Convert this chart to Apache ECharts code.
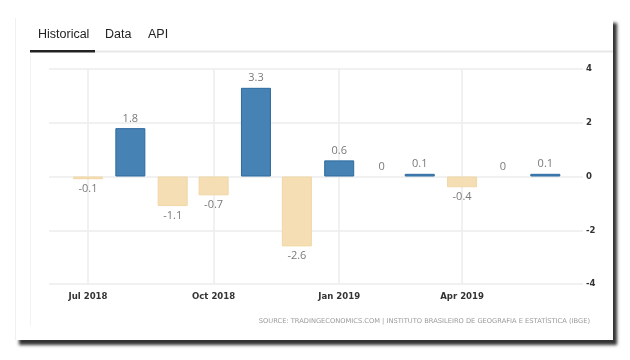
<!DOCTYPE html>
<html>
<head>
<meta charset="utf-8">
<script src="https://cdn.jsdelivr.net/npm/echarts@6/dist/echarts.min.js"></script>
<style>
html,body{margin:0;padding:0;background:#fff;}
#c{width:630px;height:360px;}
</style>
</head>
<body>
<div id="c"></div>
<script>
// ---- data ----
var months = ['2018-07','2018-08','2018-09','2018-10','2018-11','2018-12','2019-01','2019-02','2019-03','2019-04','2019-05','2019-06'];
var values = [-0.1, 1.8, -1.1, -0.7, 3.3, -2.6, 0.6, 0, 0.1, -0.4, 0, 0.1];
var xTickMonths = ['2018-07','2018-10','2019-01','2019-04'];
var monthNames = ['Jan','Feb','Mar','Apr','May','Jun','Jul','Aug','Sep','Oct','Nov','Dec'];
var yTicks = [-4, -2, 0, 2, 4];
var tabs = ['Historical', 'Data', 'API'];
var sourceText = 'SOURCE: TRADINGECONOMICS.COM | INSTITUTO BRASILEIRO DE GEOGRAFIA E ESTATÍSTICA (IBGE)';

function toTime(s){ var p = s.split('-'); return Date.UTC(+p[0], +p[1]-1, 1); }
var DAY = 86400000;
var xMin = toTime(months[0]) - 28.6*DAY;
var xMax = toTime(months[months.length-1]) + 27.6*DAY;

var POS = '#4682b4', POS_B = '#2d6a9f', NEG = '#f5deb3', NEG_B = '#f0d7a6';
var seriesData = months.map(function(m, i){
  var v = values[i];
  var neg = v < 0;
  return {
    value: [toTime(m), v],
    itemStyle: v === 0 ? {color: 'transparent', borderWidth: 0} :
      {color: neg ? NEG : POS, borderColor: neg ? NEG_B : POS_B, borderWidth: 1},
    label: {position: neg ? 'bottom' : 'top'}
  };
});

var chart = echarts.init(document.getElementById('c'), null, {renderer: 'canvas'});
var axisFont = 'Tahoma, "DejaVu Sans Condensed", "DejaVu Sans", sans-serif';
chart.setOption({
  animation: false,
  backgroundColor: '#fff',
  grid: {left: 49, right: 47, top: 69, bottom: 76},
  xAxis: {
    type: 'value', min: xMin, max: xMax,
    axisLine: {show: false},
    axisTick: {show: false, customValues: xTickMonths.map(toTime)},
    axisLabel: {
      customValues: xTickMonths.map(toTime),
      formatter: function(v){ var d = new Date(v); return monthNames[d.getUTCMonth()] + ' ' + d.getUTCFullYear(); },
      color: '#333', fontWeight: 'bold', fontSize: 9.5, fontFamily: axisFont, margin: 8
    },
    splitLine: {show: true, lineStyle: {color: '#ececec', width: 1.5}}
  },
  yAxis: {
    type: 'value', position: 'right', min: yTicks[0], max: yTicks[yTicks.length-1], interval: 2,
    axisLine: {show: false}, axisTick: {show: false},
    axisLabel: {color: '#333', fontWeight: 'bold', fontSize: 9.5, fontFamily: axisFont, margin: 3},
    splitLine: {show: true, lineStyle: {color: '#ececec', width: 1.5}}
  },
  series: [{
    type: 'bar',
    barWidth: 30,
    data: seriesData,
    label: {
      show: true, color: '#7a7a7a', fontSize: 11, distance: 4,
      fontFamily: '"Open Sans", "Liberation Sans", sans-serif',
      formatter: function(p){ return String(p.value[1]); }
    }
  }],
  graphic: [
    {type: 'rect', z: -10, shape: {x: 15, y: 18, width: 598, height: 322},
     style: {fill: '#fff', shadowBlur: 3, shadowColor: 'rgba(0,0,0,0.8)', shadowOffsetX: 4, shadowOffsetY: 5}},
    {type: 'line', z: -9, shape: {x1: 15.5, y1: 18, x2: 15.5, y2: 340}, style: {stroke: '#f0f0f0', lineWidth: 1}},
    {type: 'line', z: -9, shape: {x1: 30.5, y1: 55, x2: 30.5, y2: 326}, style: {stroke: '#f3f3f3', lineWidth: 1}},
    {type: 'rect', z: -8, shape: {x: 95, y: 50.5, width: 518, height: 2}, style: {fill: '#e8e8e8'}},
    {type: 'rect', z: -7, shape: {x: 30, y: 50, width: 65, height: 2.5}, style: {fill: '#222'}},
    {type: 'text', z: -7, x: 38, y: 35, style: {text: tabs[0], fill: '#222', font: '12.5px "Liberation Sans", Arial, sans-serif', textVerticalAlign: 'middle'}},
    {type: 'text', z: -7, x: 105, y: 35, style: {text: tabs[1], fill: '#222', font: '12.5px "Liberation Sans", Arial, sans-serif', textVerticalAlign: 'middle'}},
    {type: 'text', z: -7, x: 148, y: 35, style: {text: tabs[2], fill: '#222', font: '12.5px "Liberation Sans", Arial, sans-serif', textVerticalAlign: 'middle'}},
    {type: 'text', z: -7, x: 590, y: 321, style: {text: sourceText, fill: '#999', font: '6.7px "DejaVu Sans", sans-serif', textAlign: 'right', textVerticalAlign: 'middle'}}
  ]
});
</script>
</body>
</html>
